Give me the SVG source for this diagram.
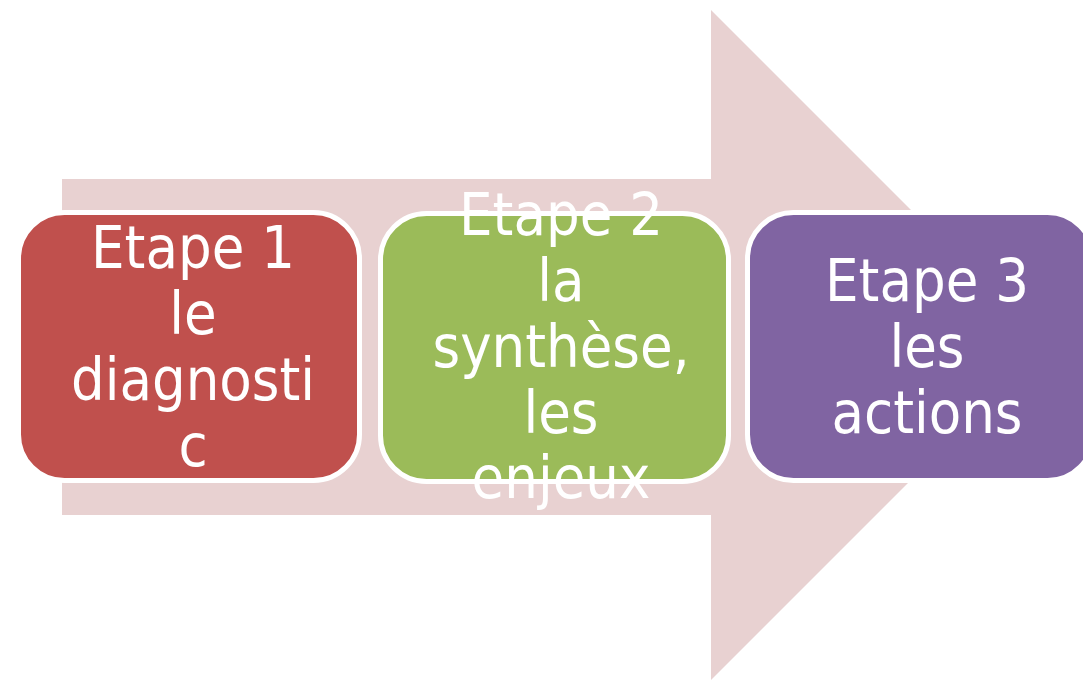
<svg xmlns="http://www.w3.org/2000/svg" width="1083" height="680" viewBox="0 0 1083 680">
<style>
.box{stroke:#FFFFFF;stroke-width:5}
.lbl{font-family:"DejaVu Sans Condensed","DejaVu Sans","Liberation Sans",sans-serif;font-stretch:condensed;font-size:59px;fill:#FFFFFF;text-anchor:middle}
</style>
<rect width="1083" height="680" fill="#FFFFFF"/>
<g id="connectors">
<polygon id="arrow" points="62,179 711,179 711,10 1046,345 711,680 711,515 62,515" fill="#E8D1D1"/>
</g>
<g id="node1">
<rect class="box" x="18.5" y="212.5" width="341" height="268" rx="46" fill="#C0504D"/>
<text class="lbl"><tspan x="193" y="268">Etape 1</tspan><tspan x="193" y="334">le</tspan><tspan x="193" y="400">diagnosti</tspan><tspan x="193" y="466">c</tspan></text>
</g>
<g id="node2">
<rect class="box" x="380.5" y="213.5" width="348" height="268" rx="46" fill="#9BBB59"/>
<text class="lbl"><tspan x="561" y="235">Etape 2</tspan><tspan x="561" y="301">la</tspan><tspan x="561" y="367">synthèse,</tspan><tspan x="561" y="433">les</tspan><tspan x="561" y="498">enjeux</tspan></text>
</g>
<g id="node3">
<rect class="box" x="747.5" y="212.5" width="346" height="268" rx="46" fill="#8064A2"/>
<text class="lbl"><tspan x="927" y="301">Etape 3</tspan><tspan x="927" y="367">les</tspan><tspan x="927" y="433">actions</tspan></text>
</g>
</svg>
